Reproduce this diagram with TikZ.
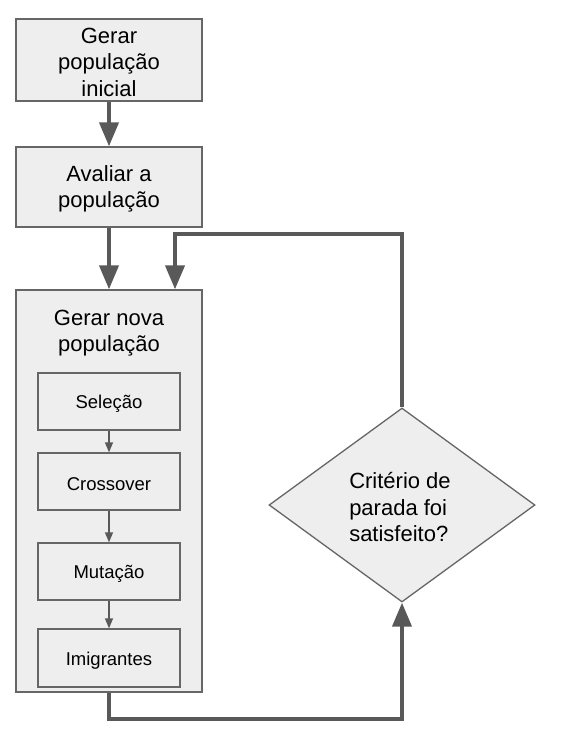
\documentclass[tikz,border=0pt]{standalone}
\usepackage{fontspec}
\setmainfont{Liberation Sans}
\usetikzlibrary{arrows.meta,shapes.geometric}
\definecolor{boxfill}{HTML}{EEEEEE}
\definecolor{boxline}{HTML}{666666}
\definecolor{arrowc}{HTML}{595959}
\begin{document}
\begin{tikzpicture}[x=1pt,y=-1pt,
  bigfont/.style={font=\fontsize{22}{26.5}\selectfont},
  smallfont/.style={font=\fontsize{18.5}{22}\selectfont},
  box/.style={draw=boxline,fill=boxfill,line width=1.3pt,inner sep=0pt,align=center},
  bigtext/.style={label={[bigfont,align=center,inner sep=0pt,yshift=-2pt]center:#1}},
  smalltext/.style={label={[smallfont,align=center,inner sep=0pt,yshift=-2.5pt]center:#1}},
  thickarrow/.style={draw=arrowc,line width=4pt,-{Triangle[width=19pt,length=24pt]}},
  thinarrow/.style={draw=arrowc,line width=1.3pt,-{Triangle[width=8pt,length=10pt]}}]
\useasboundingbox (0,0) rectangle (563,733);
\node[box,minimum width=186pt,minimum height=82pt,bigtext={Gerar\\população\\inicial}] (a) at (109,60) {};
\node[box,minimum width=186pt,minimum height=80pt,bigtext={Avaliar a\\população}] (b) at (109,187) {};
\node[box,minimum width=186pt,minimum height=402pt] (g) at (109,491) {};
\node[bigfont,align=center,inner sep=0pt] (gt) at (109,333) {Gerar nova\\população};
\node[box,minimum width=142pt,minimum height=57pt,smalltext={Seleção}] (s1) at (109,401.5) {};
\node[box,minimum width=142pt,minimum height=57pt,smalltext={Crossover}] (s2) at (109,481.5) {};
\node[box,minimum width=142pt,minimum height=57pt,smalltext={Mutação}] (s3) at (109,571.5) {};
\node[box,minimum width=142pt,minimum height=58pt,smalltext={Imigrantes}] (s4) at (109,658) {};
\node[diamond,draw=boxline,fill=boxfill,line width=1.3pt,inner sep=0pt,minimum width=266pt,minimum height=194pt] (d) at (402,505) {};
\node[bigfont,align=left,inner sep=0pt] (dt) at (400,507.5) {Critério de\\parada foi\\satisfeito?};
\coordinate (loopc) at (175,234);
\draw[thickarrow] (a) -- (b);
\draw[thickarrow] (b) -- (b.south |- g.north);
\draw[thickarrow] (d.north) |- (loopc) -- (loopc |- g.north);
\draw[thickarrow] (g.south) -- ++(0,26) -| (d.south);
\draw[thinarrow] (s1) -- (s2);
\draw[thinarrow] (s2) -- (s3);
\draw[thinarrow] (s3) -- (s4);
\end{tikzpicture}
\end{document}
